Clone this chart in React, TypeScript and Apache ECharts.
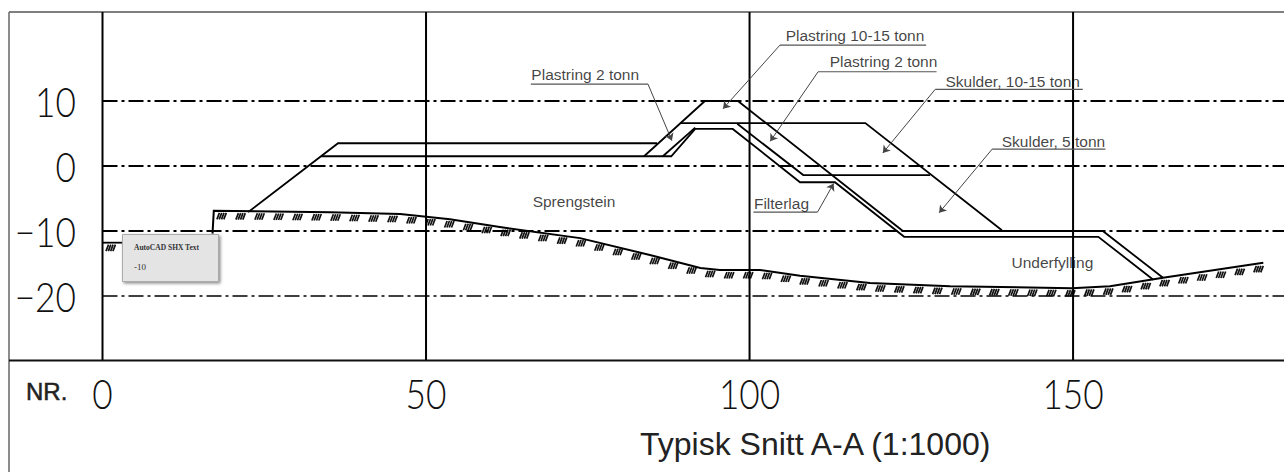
import React, { useEffect, useRef } from "react";
import * as echarts from "echarts";

const yTicks = [10, 0, -10, -20];
const xTicks = [0, 50, 100, 150];
const levelWidths = [1.8, 1.8, 2, 1.4];

const crestOuter = [[22.5, -7.1], [36.4, 3.5], [85.7, 3.5]];
const berm = [[33.8, 1.5], [87.9, 1.5], [91.6, 5.7], [97.4, 5.7], [107.8, -2.5], [113.2, -2.5], [123.9, -10.9], [153.9, -10.9], [162.4, -17.5]];
const armour = [[83.7, 1.5], [93.1, 10], [98.2, 10], [123.7, -10], [154.6, -10], [163.9, -17.2]];
const armourInner = [[86.6, 1.5], [91.6, 5.9]];
const shoulder = [[89.3, 6.6], [117.9, 6.6], [139, -9.9]];
const filter = [[98.1, 6.5], [108.3, -1.4], [127.9, -1.4]];
const profiles = [crestOuter, berm, armour, armourInner, shoulder, filter];

const groundLeft = [[0, -11.8], [3, -11.8]];
const ground = [[17, -10.4], [17.2, -6.9], [35.2, -7.1], [46, -7.4], [53.7, -8.2], [61.4, -9.4], [73.8, -11.1], [84.6, -13.7], [92.4, -15.7], [95.4, -16], [101.6, -16], [107.8, -16.9], [118.6, -18], [131, -18.5], [149.8, -18.8], [155.7, -18.5], [163.9, -17.2], [179.4, -14.9]];

const calloutNames = ["Plastring 2 tonn", "Plastring 10-15 tonn", "Plastring 2 tonn", "Skulder, 10-15 tonn", "Skulder, 5 tonn", "Filterlag"];
const calloutAnchors = [[66.2, 14], [105.5, 20], [112.3, 16], [130.2, 13], [138.9, 3.7], [100.6, -5.8]];
const calloutUnderlines = [
  [[66.2, 12.6], [84.3, 12.6]],
  [[104.7, 18.6], [127.3, 18.6]],
  [[110.6, 14.5], [128.9, 14.5]],
  [[128.7, 11.8], [151.5, 11.8]],
  [[137.5, 2.6], [155, 2.6]],
  [[100.6, -7.1], [110.5, -7.1]],
];
const calloutArrows = [
  [[84.3, 12.6], [88, 3.9]],
  [[104.7, 18.6], [95.9, 8.8]],
  [[110.6, 14.5], [103.2, 3.8]],
  [[128.7, 11.8], [120.6, 2]],
  [[137.5, 2.6], [129.3, -7.2]],
  [[110.5, -7.1], [113, -2.7]],
];
const regionNames = ["Sprengstein", "Underfylling"];
const regionAnchors = [[66.4, -5.4], [140.4, -14.8]];

const xMin = -3.17, xMax = 182.6, yMin = -29.85, yMax = 23.69;

const line = (data: number[][], width: number, color = "#000", type: any = "solid") => ({
  type: "line", data, symbol: "none", silent: true, z: 3,
  lineStyle: { color, width, type, cap: "butt", join: "miter" },
});

const fmt = (v: number) => (v < 0 ? "\u2212" + Math.abs(v) : String(v));

const digitStyle = (text: string, align: string) => ({
  text, fontFamily: "Lato", fontWeight: 300, fontSize: 42, fill: "#111", align, verticalAlign: "middle",
});

export default function App() {
  const ref = useRef<HTMLDivElement>(null);
  useEffect(() => {
    document.body.style.margin = "0";
    const chart = echarts.init(ref.current!, undefined, { renderer: "svg" });
    const segments: number[][] = [];
    [groundLeft, ground].forEach((g) => {
      for (let i = 0; i < g.length - 1; i++) segments.push([g[i][0], g[i][1], g[i + 1][0], g[i + 1][1]]);
    });
    let carry = 6;
    chart.setOption({
      animation: false,
      backgroundColor: "#fff",
      title: {
        text: "Typisk Snitt A-A (1:1000)", left: 635, top: 423,
        textStyle: { fontFamily: "'Liberation Sans'", fontSize: 32, fontWeight: "normal", color: "#222" },
      },
      grid: { left: 82, right: 0, top: 12, bottom: 112 },
      xAxis: {
        type: "value", min: xMin, max: xMax, axisLine: { show: false }, axisTick: { show: false }, splitLine: { show: false },
        axisLabel: { show: false },
      },
      yAxis: {
        type: "value", min: yMin, max: yMax, axisLine: { show: false }, axisTick: { show: false }, splitLine: { show: false },
        axisLabel: { show: false },
      },
      series: [
        ...yTicks.map((v, i) => line([[0, v], [xMax, v]], levelWidths[i], "#000", [15, 4, 3, 4])),
        ...xTicks.map((v) => line([[v, yMin], [v, yMax]], 2)),
        ...profiles.map((p) => line(p, 1.8)),
        line(groundLeft, 1.8),
        line(ground, 2),
        {
          type: "custom", silent: true, z: 3, data: segments, encode: { x: [0, 2], y: [1, 3] },
          renderItem: (params: any, api: any) => {
            if (params.dataIndex === 0) carry = 6;
            const a = api.coord([api.value(0), api.value(1)]);
            const b = api.coord([api.value(2), api.value(3)]);
            const dx = b[0] - a[0], dy = b[1] - a[1];
            const len = Math.hypot(dx, dy);
            const children: any[] = [];
            if (Math.abs(dx) > Math.abs(dy)) {
              let d = carry;
              for (; d < len; d += 19) {
                const x = a[0] + (dx * d) / len, y = a[1] + (dy * d) / len;
                for (let k = 0; k < 4; k++) {
                  children.push({
                    type: "line",
                    shape: { x1: x + k * 2.3, y1: y + 2, x2: x + k * 2.3 - 2.5, y2: y + 8.5 },
                    style: { stroke: "#111", lineWidth: 1.7 },
                  });
                }
              }
              carry = d - len;
            }
            return { type: "group", children };
          },
        },
        {
          type: "custom", silent: true, z: 6, data: xTicks.map((v) => [v]), encode: { x: 0 },
          clip: false,
          renderItem: (_p: any, api: any) => {
            const v = api.value(0);
            const c = api.coord([v, 0]);
            return {
              type: "text", x: c[0], y: 393, scaleX: 0.84,
              style: digitStyle(fmt(v), "center"),
            };
          },
        },
        {
          type: "custom", silent: true, z: 6, data: yTicks.map((v) => [v]), encode: { y: 0 },
          clip: false,
          renderItem: (_p: any, api: any) => {
            const v = api.value(0);
            const c = api.coord([0, v]);
            return {
              type: "text", x: 76, y: c[1], scaleX: 0.84,
              style: digitStyle(fmt(v), "right"),
            };
          },
        },
        {
          type: "lines", coordinateSystem: "cartesian2d", polyline: true, silent: true, z: 4,
          lineStyle: { color: "#555", width: 1.2, opacity: 1 },
          data: calloutUnderlines.map((coords) => ({ coords })),
        },
        {
          type: "lines", coordinateSystem: "cartesian2d", silent: true, z: 4,
          symbol: ["none", "arrow"], symbolSize: 7,
          lineStyle: { color: "#444", width: 1, opacity: 1, curveness: 0 },
          data: calloutArrows.map((coords) => ({ coords })),
        },
        {
          type: "scatter", symbol: "circle", symbolSize: 1, silent: true, z: 5,
          itemStyle: { color: "transparent" },
          data: [...calloutAnchors, ...regionAnchors].map((value, i) => ({ value, name: [...calloutNames, ...regionNames][i] })),
          label: {
            show: true, position: "right", distance: 0, formatter: "{b}",
            fontFamily: "'Liberation Sans'", fontSize: 15.5, color: "#111",
          },
        },
      ],
      graphic: [
        { type: "line", z: 1, shape: { x1: 9, y1: 12, x2: 1284, y2: 12 }, style: { stroke: "#555", lineWidth: 1.5 } },
        { type: "line", z: 1, shape: { x1: 9, y1: 12, x2: 9, y2: 472 }, style: { stroke: "#666", lineWidth: 1.5 } },
        { type: "line", z: 1, shape: { x1: 9, y1: 360.5, x2: 1284, y2: 360.5 }, style: { stroke: "#111", lineWidth: 1.8 } },
        { type: "text", z: 10, x: 26, y: 379, style: { text: "NR.", fontFamily: "'Liberation Sans'", fontSize: 24, fill: "#222", stroke: "#222", lineWidth: 0.5 } },
        {
          type: "rect", z: 20, shape: { x: 122.5, y: 234.5, width: 96, height: 47 },
          style: { fill: "#e4e4e4", stroke: "#aaa", lineWidth: 1, shadowBlur: 3, shadowColor: "rgba(0,0,0,0.45)", shadowOffsetX: 1.5, shadowOffsetY: 1.5 },
        },
        { type: "text", z: 21, x: 134, y: 243, style: { text: "AutoCAD SHX Text", fontFamily: "'Liberation Serif'", fontSize: 7.5, fontWeight: "bold", fill: "#333" } },
        { type: "text", z: 21, x: 134, y: 262, style: { text: "-10", fontFamily: "'Liberation Serif'", fontSize: 9, fill: "#333" } },
      ],
    });
    return () => chart.dispose();
  }, []);
  return <div ref={ref} style={{ width: 1284, height: 472 }} />;
}
